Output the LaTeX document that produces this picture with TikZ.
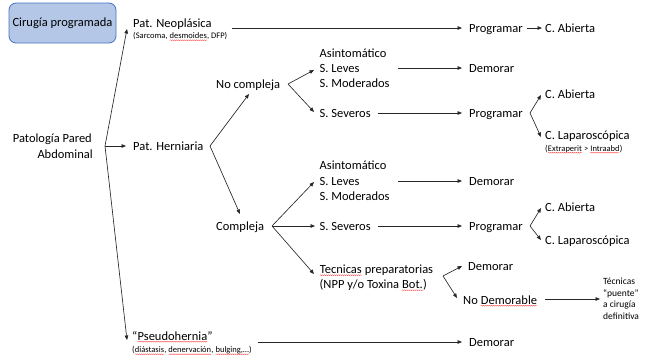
\documentclass[tikz,border=0pt]{standalone}
\usepackage{fontspec}
\setmainfont{Carlito}
\usetikzlibrary{arrows.meta,decorations.pathmorphing}
\newcommand\spl[1]{\tikz[baseline=(w.base)]{\node[inner sep=0pt,outer sep=0pt,anchor=base](w){#1};\draw[red!75,line width=0.35pt,decorate,decoration={snake,amplitude=0.45pt,segment length=2pt}] ([yshift=-1.7pt]w.base west) -- ([yshift=-1.7pt]w.base east);}}
\definecolor{boxfill}{RGB}{180,199,231}
\definecolor{boxdraw}{RGB}{68,114,196}
\begin{document}
\begin{tikzpicture}[x=1pt,y=-1pt,
  tx/.style={font=\fontsize{12.5}{15}\selectfont, inner sep=0pt, anchor=base west},
  sm/.style={font=\fontsize{8.5}{10}\selectfont, inner sep=0pt, anchor=base west},
  xs/.style={font=\fontsize{9.5}{11}\selectfont, inner sep=0pt, anchor=base west},
  arr/.style={draw=black!85, line width=0.65pt, -{Triangle[length=4.5pt,width=3.6pt]}},
]
\useasboundingbox (0,0) rectangle (645,359);

% box
\node[draw=boxdraw, fill=boxfill, rounded corners=7pt, minimum width=107pt, minimum height=40pt,
      inner sep=0pt, line width=0.8pt, font=\fontsize{12.5}{15}\selectfont] (cir) at (62.5,23) {Cirugía programada};

% text nodes
\node[tx] (pat1) at (12.7,142.5) {Patología Pared};
\node[tx] (pat2) at (37.3,158.5) {Abdominal};
\node[tx] (neo) at (133,27.5) {Pat. Neoplásica};
\node[sm] (neos) at (133,38.5) {(Sarcoma, \spl{desmoides}, DFP)};
\node[tx] (her) at (133,150) {Pat. Herniaria};
\node[tx] (pse) at (132,340) {“\spl{Pseudohernia}”};
\node[sm] (pses) at (132,352.5) {(\spl{diástasis}, \spl{denervación}, \spl{bulging,…})};

\node[tx] (nc) at (216,88) {No compleja};
\node[tx] (co) at (216,230.5) {Compleja};

\node[tx] (a1) at (319.5,57.5) {Asintomático};
\node[tx] (l1) at (319.5,72.5) {S. Leves};
\node[tx] (m1) at (319.5,87.5) {S. Moderados};
\node[tx] (s1) at (319.5,117.5) {S. Severos};
\node[tx] (a2) at (319.5,169.5) {Asintomático};
\node[tx] (l2) at (319.5,185.5) {S. Leves};
\node[tx] (m2) at (319.5,200.5) {S. Moderados};
\node[tx] (s2) at (319.5,230.5) {S. Severos};
\node[tx] (t1) at (319.5,273.5) {\spl{Tecnicas} preparatorias};
\node[tx] (t2) at (319.5,288.5) {(NPP y/o Toxina \spl{Bot.})};

\node[tx] (p1) at (469,32) {Programar};
\node[tx] (ca1) at (545,32) {C. Abierta};
\node[tx] (d1) at (469,72.5) {Demorar};
\node[tx] (p2) at (469,117.5) {Programar};
\node[tx] (ca2) at (545,98.5) {C. Abierta};
\node[tx] (cl2) at (545,139.5) {C. Laparoscópica};
\node[sm] (cls) at (545,151) {(\spl{Extraperit} > \spl{Intraabd})};
\node[tx] (d2) at (469,185.5) {Demorar};
\node[tx] (p3) at (469,230.5) {Programar};
\node[tx] (ca3) at (545,211.5) {C. Abierta};
\node[tx] (cl3) at (545,244.5) {C. Laparoscópica};
\node[tx] (d3) at (468,270) {Demorar};
\node[tx] (nd) at (463,304) {No \spl{Demorable}};
\node[xs] (tp1) at (603,284) {Técnicas};
\node[xs] (tp2) at (603,296) {“puente”};
\node[xs] (tp3) at (603,307.5) {a cirugía};
\node[xs] (tp4) at (603,319.5) {definitiva};
\node[tx] (d4) at (469,346.5) {Demorar};

% connector coordinates
\coordinate (f0) at (105,146);
\coordinate (f0a) at (127,29);
\coordinate (f0b) at (126,146);
\coordinate (f0c) at (127,340);
\coordinate (neoS) at (232,28);
\coordinate (neoE) at (462,28);
\coordinate (p1S) at (527,28);
\coordinate (p1E) at (542,28);
\coordinate (fh) at (210,146);
\coordinate (fha) at (249,94);
\coordinate (fhb) at (240,214);
\coordinate (fn) at (288,84);
\coordinate (fna) at (314,70);
\coordinate (fnb) at (314,112);
\coordinate (l1S) at (398,68);
\coordinate (l1E) at (462,68);
\coordinate (s1S) at (378,113);
\coordinate (s1E) at (462,113);
\coordinate (fp2) at (530,113);
\coordinate (fp2a) at (541,95);
\coordinate (fp2b) at (541,137);
\coordinate (fc) at (272,226);
\coordinate (fca) at (314,182);
\coordinate (fcb) at (315,226);
\coordinate (fcc) at (314,274);
\coordinate (l2S) at (398,181);
\coordinate (l2E) at (462,181);
\coordinate (s2S) at (378,226);
\coordinate (s2E) at (462,226);
\coordinate (fp3) at (530,226);
\coordinate (fp3a) at (541,208);
\coordinate (fp3b) at (541,240);
\coordinate (ft) at (443,276);
\coordinate (fta) at (462,266);
\coordinate (ftb) at (457,298);
\coordinate (ndS) at (545,299);
\coordinate (ndE) at (600,299);
\coordinate (pseS) at (258,342);
\coordinate (pseE) at (462,342);

% connectors
\draw[arr] (f0) -- (f0a);
\draw[arr] (f0) -- (f0b);
\draw[arr] (f0) -- (f0c);
\draw[arr] (neoS) -- (neoE);
\draw[arr] (p1S) -- (p1E);
\draw[arr] (fh) -- (fha);
\draw[arr] (fh) -- (fhb);
\draw[arr] (fn) -- (fna);
\draw[arr] (fn) -- (fnb);
\draw[arr] (l1S) -- (l1E);
\draw[arr] (s1S) -- (s1E);
\draw[arr] (fp2) -- (fp2a);
\draw[arr] (fp2) -- (fp2b);
\draw[arr] (fc) -- (fca);
\draw[arr] (fc) -- (fcb);
\draw[arr] (fc) -- (fcc);
\draw[arr] (l2S) -- (l2E);
\draw[arr] (s2S) -- (s2E);
\draw[arr] (fp3) -- (fp3a);
\draw[arr] (fp3) -- (fp3b);
\draw[arr] (ft) -- (fta);
\draw[arr] (ft) -- (ftb);
\draw[arr] (ndS) -- (ndE);
\draw[arr] (pseS) -- (pseE);
\end{tikzpicture}
\end{document}
